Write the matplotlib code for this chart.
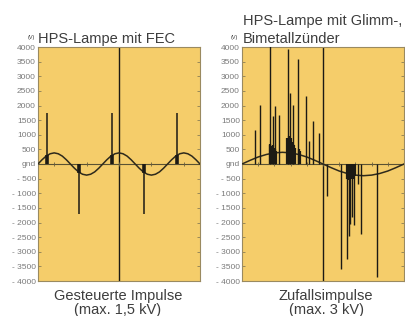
import matplotlib.pyplot as plt
import matplotlib as mpl
import numpy as np

YELLOW = '#F5CD6A'
GRAY_TXT = '#3d3d3d'
GRAY_TICK = '#7a7a7a'
DARK = '#1c1a14'

mpl.rcParams['font.family'] = ['Liberation Sans', 'DejaVu Sans']

# Data: left panel (controlled pulses, 50 ms shown)
t_left = [i * 1.25 for i in range(41)]
wave_left = [0, 145, 270, 350, 380, 350, 270, 145,
             0, -145, -270, -350, -380, -350, -270, -145,
             0, 145, 270, 350, 380, 350, 270, 145,
             0, -145, -270, -350, -380, -350, -270, -145,
             0, 145, 270, 350, 380, 350, 270, 145, 0]
spike_t_left = [2.8, 12.7, 22.8, 32.6, 42.8]
spike_v_left = [1750, -1700, 1750, -1700, 1750]
spike_base_left = [300, -300, 300, -300, 300]
gnd_ticks_left = [5, 15, 25, 35, 45]

# Data: right panel (random pulses, one period of 20 ms)
t_right = list(range(21))
wave_right = [0, 125, 240, 325, 380, 400, 380, 325, 240, 125,
              0, -125, -240, -325, -380, -400, -380, -325, -240, -125, 0]
spike_t_right = [1.64, 2.26, 3.49, 3.79, 4.11, 4.53, 5.64, 5.96, 6.30, 6.88,
                 7.94, 8.23, 8.77, 9.47,
                 10.49, 12.28, 12.93, 13.15, 13.33, 13.54, 13.83, 14.32, 14.75, 16.64]
spike_v_right = [1170, 2030, 4100, 1630, 1980, 1690, 3930, 2440, 2030, 3590,
                 2320, 770, 1460, 1070,
                 -1100, -3580, -3250, -2450, -2050, -1800, -2100, -700, -2400, -3850]
cluster_t = [3.40, 3.50, 3.60, 3.70, 3.85, 3.95, 4.05, 4.20,
             5.55, 5.70, 5.80, 5.90, 6.05, 6.15, 6.25, 6.40, 6.60, 7.00, 7.20,
             12.95, 13.05, 13.15, 13.25, 13.40, 13.50, 13.60, 13.75, 13.90]
cluster_v = [650, 700, 620, 600, 640, 560, 520, 450,
             900, 850, 950, 800, 880, 760, 700, 650, 550, 500, 450,
             -520, -560, -500, -540, -480, -520, -460, -500, -420]
gnd_ticks_right = [2, 4, 6, 8, 10, 12, 14, 16, 18]

yticks = list(range(-4000, 4001, 500))
ylabels = ['gnd' if v == 0 else (f'- {-v}' if v < 0 else str(v)) for v in yticks]

W, H = 406, 316
fig = plt.figure(figsize=(W / 100, H / 100), dpi=100)
fig.patch.set_facecolor('white')

ax1 = fig.add_axes([38 / W, (H - 281) / H, 162 / W, 234 / H])
ax2 = fig.add_axes([242 / W, (H - 281) / H, 162 / W, 234 / H])


def style(ax, xmax, center):
    ax.set_facecolor(YELLOW)
    ax.set_xlim(0, xmax)
    ax.set_ylim(-4000, 4000)
    ax.set_xticks([])
    ax.set_yticks(yticks)
    ax.set_yticklabels(ylabels)
    ax.tick_params(axis='y', direction='in', length=2.5, width=0.6, color='#8a7d55',
                   labelsize=6, labelcolor=GRAY_TICK, pad=1.5, right=True)
    for s in ax.spines.values():
        s.set_color('#9a8a60')
        s.set_linewidth(0.8)
    ax.axvline(center, color=DARK, lw=1.0, zorder=2)
    ax.axhline(0, color='#5a5233', lw=0.8, zorder=2)


style(ax1, 50, 25)
style(ax2, 20, 10)

# left panel
ax1.plot(gnd_ticks_left, [0] * len(gnd_ticks_left), ls='none', marker='|', ms=3,
         color='#6a6040', mew=0.6)
ax1.plot(t_left, wave_left, color='#2e2a1c', lw=1.1, zorder=3)
ax1.vlines(spike_t_left, 0, spike_v_left, color=DARK, lw=1.1, zorder=4)
ax1.vlines(spike_t_left, 0, spike_base_left, color=DARK, lw=2.6, zorder=4)

# right panel
ax2.plot(gnd_ticks_right, [0] * len(gnd_ticks_right), ls='none', marker='|', ms=3,
         color='#6a6040', mew=0.6)
ax2.plot(t_right, wave_right, color='#2e2a1c', lw=1.1, zorder=3)
ax2.vlines(spike_t_right, 0, spike_v_right, color=DARK, lw=1.0, zorder=4)
ax2.vlines(cluster_t, 0, cluster_v, color=DARK, lw=1.6, zorder=4)

# titles and labels
def ftext(x, y, s, **kw):
    fig.text(x / W, 1 - y / H, s, va='baseline', color=GRAY_TXT, **kw)


ftext(38, 43, 'HPS-Lampe mit FEC', fontsize=10.5)
ftext(28, 39, '(V)', fontsize=4)
ftext(243, 25, 'HPS-Lampe mit Glimm-,', fontsize=10.5)
ftext(243, 43, 'Bimetallzünder', fontsize=10.5)
ftext(231, 39, '(V)', fontsize=4)

ftext(118, 300, 'Gesteuerte Impulse', fontsize=10.5, ha='center')
ftext(118, 314, '(max. 1,5 kV)', fontsize=10.5, ha='center')
ftext(326, 300, 'Zufallsimpulse', fontsize=10.5, ha='center')
ftext(327, 314, '(max. 3 kV)', fontsize=10.5, ha='center')

fig.savefig('out.png', dpi=100)
